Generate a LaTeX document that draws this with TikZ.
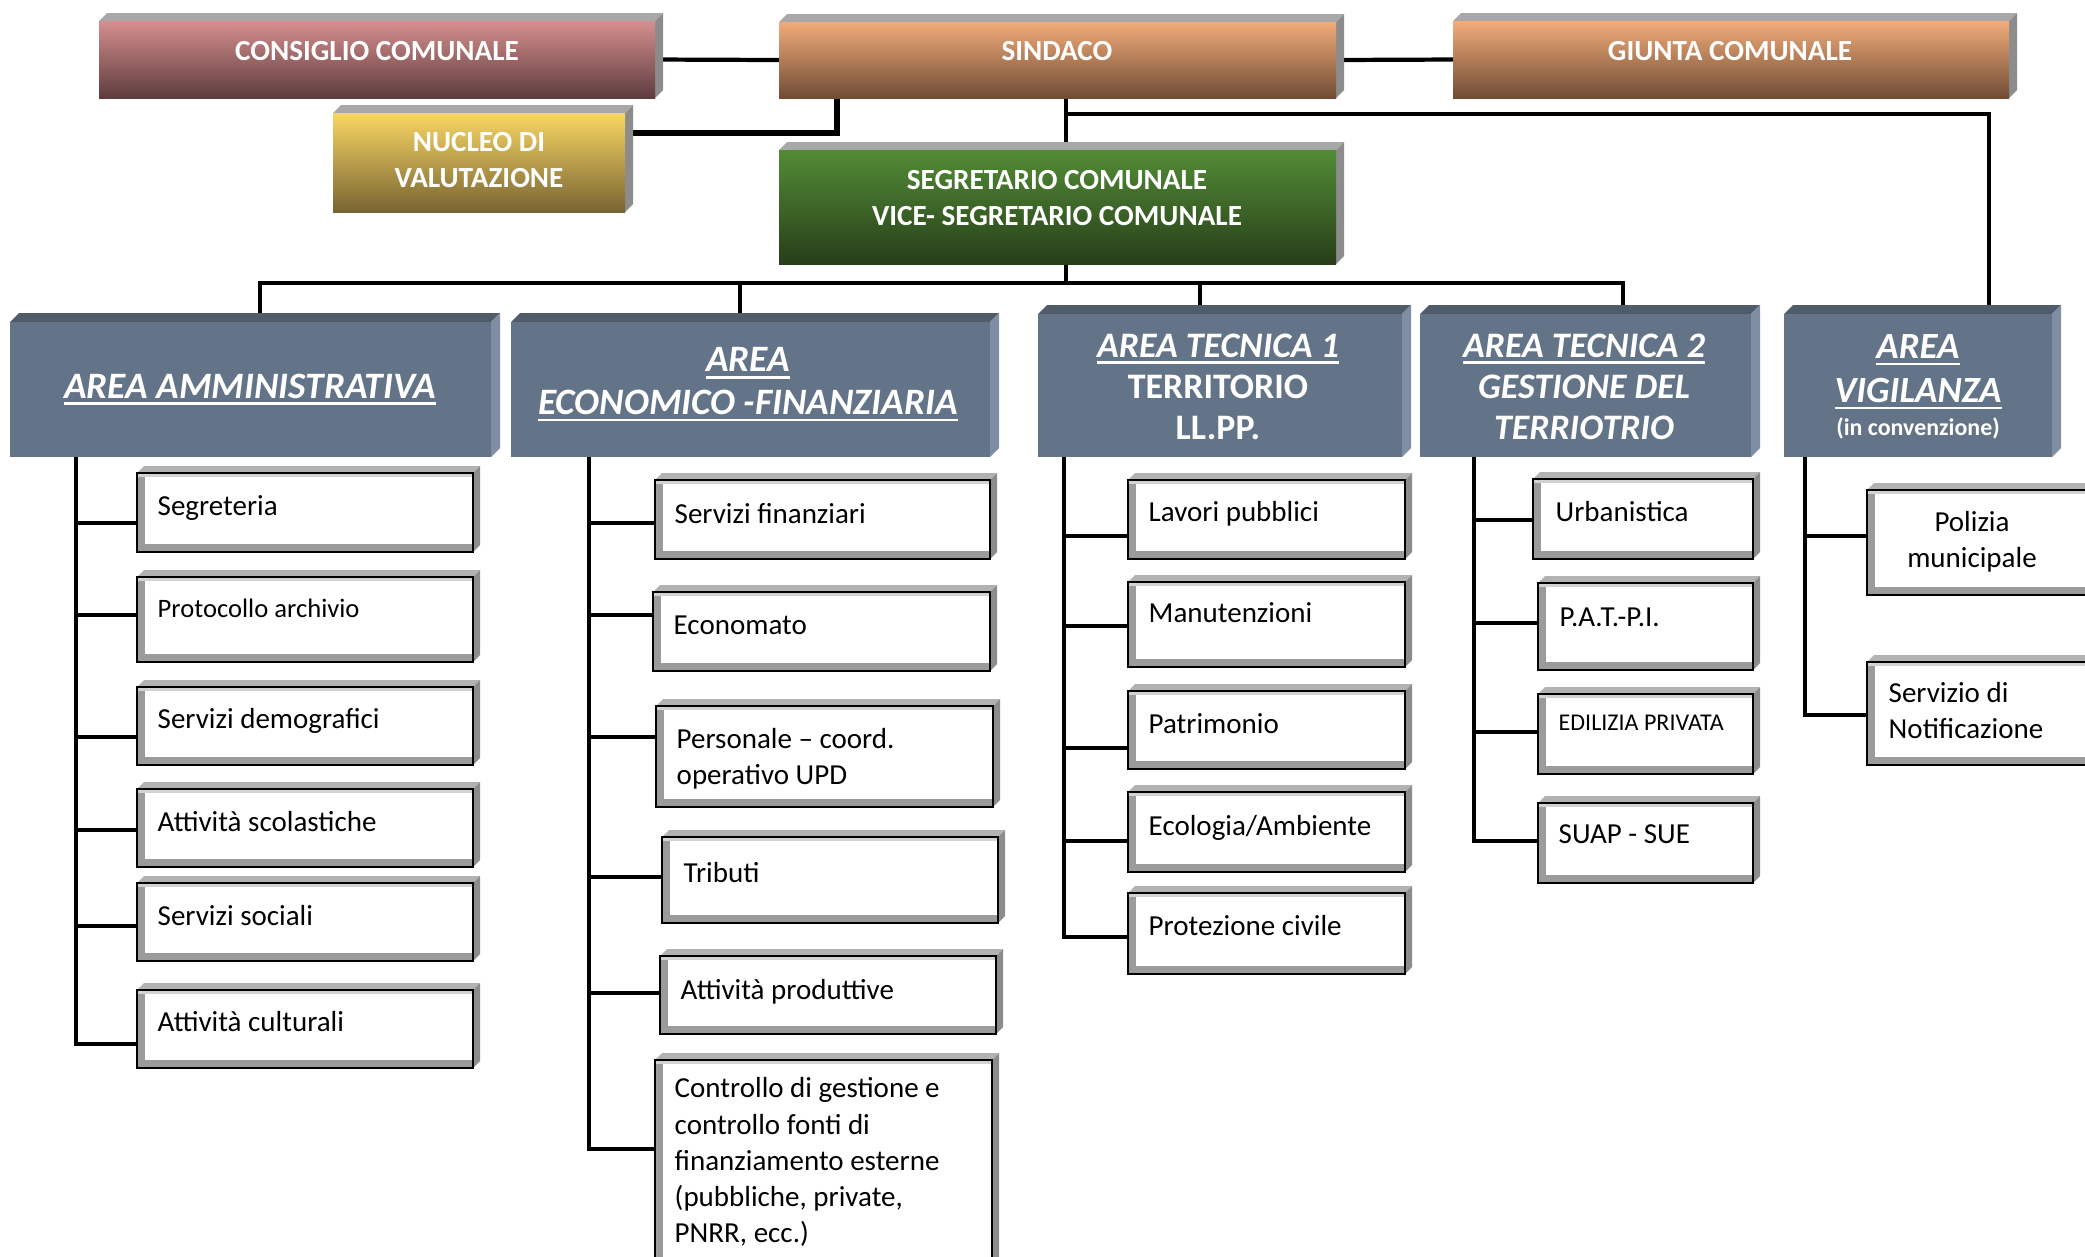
\documentclass[tikz,border=0pt]{standalone}
\usepackage{fontspec}
\setmainfont{Carlito}
\usetikzlibrary{backgrounds}
\definecolor{consT}{RGB}{214,143,142}
\definecolor{consB}{RGB}{94,60,62}
\definecolor{sindT}{RGB}{242,172,122}
\definecolor{sindB}{RGB}{112,76,52}
\definecolor{nucT}{RGB}{249,214,100}
\definecolor{nucB}{RGB}{120,100,50}
\definecolor{segT}{RGB}{82,140,54}
\definecolor{segB}{RGB}{40,62,25}
\definecolor{areaF}{RGB}{100,116,136}
\definecolor{areaTop}{RGB}{80,92,106}
\definecolor{areaRt}{RGB}{128,142,164}
\definecolor{hbT}{RGB}{168,168,168}
\definecolor{hbR}{RGB}{140,140,140}
\definecolor{sbT}{RGB}{178,178,178}
\definecolor{sbR}{RGB}{140,140,140}
\definecolor{sband}{RGB}{155,155,155}
\newsavebox\ulbox
\newcommand\myul[1]{\sbox\ulbox{#1}\leavevmode\rlap{\rule[-1.9pt]{\wd\ulbox}{0.75pt}}\usebox\ulbox}
% header box: name, x1, ytop, x2(face right), y2, top colour, bottom colour
\newcommand\topbx[7]{%
  \fill[hbT] (#2,#3+8) -- (#2+8,#3) -- (#4+8,#3) -- (#4,#3+8) -- cycle;
  \fill[hbR] (#4,#3+8) -- (#4+8,#3) -- (#4+8,#5-8) -- (#4,#5) -- cycle;
  \node[shade, top color=#6, bottom color=#7, inner sep=0, outer sep=0,
    minimum width={(#4-#2)*0.01cm}, minimum height={(#5-#3-8)*0.01cm}]
    (#1) at ({(#2+#4)/2},{(#3+8+#5)/2}) {};
}
% area box
\newcommand\areabx[5]{%
  \fill[areaTop] (#2,#3+9) -- (#2+9,#3) -- (#4+9,#3) -- (#4,#3+9) -- cycle;
  \fill[areaRt] (#4,#3+9) -- (#4+9,#3) -- (#4+9,#5-9) -- (#4,#5) -- cycle;
  \node[fill=areaF, inner sep=0, outer sep=0,
    minimum width={(#4-#2)*0.01cm}, minimum height={(#5-#3-9)*0.01cm}]
    (#1) at ({(#2+#4)/2},{(#3+9+#5)/2}) {};
}
% sub box (black frame coordinates)
\newcommand\subbx[5]{%
  \fill[sbT] (#2,#3) -- (#2+7,#3-7) -- (#4+7,#3-7) -- (#4,#3) -- cycle;
  \fill[sbR] (#4,#3) -- (#4+7,#3-7) -- (#4+7,#5-7) -- (#4,#5) -- cycle;
  \node[subbox, minimum width={(#4-#2)*0.01cm}, minimum height={(#5-#3)*0.01cm}]
    (#1) at ({(#2+#4)/2},{(#3+#5)/2}) {};
}
\tikzset{
  subbox/.style={draw=black, line width=0.8pt, fill=white, inner sep=0, outer sep=0,
    path picture={
      \fill[sband] (path picture bounding box.south west) rectangle ([xshift=2.3pt]path picture bounding box.north west);
      \fill[sband] (path picture bounding box.south west) rectangle ([yshift=2.3pt]path picture bounding box.south east);
      \fill[sband!45] (path picture bounding box.north west) rectangle ([yshift=-1.2pt]path picture bounding box.north east);
    }},
  htext/.style={text=white, font={\bfseries\fontsize{8.3}{10.4}\selectfont}, align=center, inner sep=0},
  atext/.style={text=white, font={\bfseries\fontsize{10.2}{11.7}\selectfont}, align=center, inner sep=0},
  stext/.style={text=black, font={\fontsize{8.25}{10.24}\selectfont}, align=left, inner sep=0, anchor=base west},
  conn/.style={draw=black, line width=1.2pt},
  connthick/.style={draw=black, line width=1.5pt},
  subconn/.style={draw=black, line width=1.1pt},
}
\begin{document}
\begin{tikzpicture}[x=0.01cm, y=-0.01cm]
\useasboundingbox (0,0) rectangle (2085,1256);
\clip (0,0) rectangle (2085,1256);

% ---- top level boxes
\topbx{consiglio}{99}{13}{655}{98}{consT}{consB}
\topbx{sindaco}{779}{14}{1336}{98}{sindT}{sindB}
\topbx{giunta}{1453}{13}{2009}{98}{sindT}{sindB}
\topbx{nucleo}{333}{105}{625}{212}{nucT}{nucB}
\topbx{segretario}{779}{142}{1336}{264}{segT}{segB}

\node[htext] (consiglio-t) at (377,51) {CONSIGLIO COMUNALE};
\node[htext] (sindaco-t) at (1057,51) {SINDACO};
\node[htext] (giunta-t) at (1730,51) {GIUNTA COMUNALE};
\node[htext] (nucleo-t) at (479,160) {NUCLEO DI\\VALUTAZIONE};
\node[htext] (segretario-t) at (1057,198) {SEGRETARIO COMUNALE\\VICE- SEGRETARIO COMUNALE};

% ---- areas
\areabx{amm}{10}{313}{491}{457}
\areabx{econ}{511}{313}{990}{457}
\areabx{tec1}{1038}{305}{1402}{457}
\areabx{tec2}{1420}{305}{1751}{457}
\areabx{vig}{1784}{305}{2052}{457}

\node[atext, font={\bfseries\itshape\fontsize{10.6}{12.2}\selectfont}, anchor=base] (amm-t) at (250,398) {\myul{AREA AMMINISTRATIVA}};
\node[atext, font={\bfseries\itshape\fontsize{10.6}{12.2}\selectfont}, anchor=north] (econ-t) at (748,347) {\myul{AREA}\\\myul{ECONOMICO -FINANZIARIA}};
\node[atext, anchor=north] (tec1-t) at (1218,333) {\myul{\itshape AREA TECNICA 1}\\TERRITORIO\\LL.PP.};
\node[atext, font={\bfseries\itshape\fontsize{10.2}{11.7}\selectfont}, anchor=north] (tec2-t) at (1584,333) {\myul{AREA TECNICA 2}\\GESTIONE DEL\\TERRIOTRIO};
\node[atext, font={\bfseries\itshape\fontsize{10.5}{11.4}\selectfont}, anchor=north] (vig-t) at (1918,334) {\myul{AREA}\\[1.1pt]\myul{VIGILANZA}\\[-2pt]{\upshape\fontsize{6.8}{8}\selectfont (in convenzione)}};

% ---- sub boxes: amministrativa
\subbx{seg}{137}{473}{473}{552}
\subbx{prot}{137}{577}{473}{662}
\subbx{demo}{137}{687}{473}{765}
\subbx{scol}{137}{789}{473}{867}
\subbx{soc}{137}{883}{473}{961}
\subbx{cult}{137}{990}{473}{1068}
\node[stext] (seg-t) at (157,515) {Segreteria};
\node[stext, font={\fontsize{7.57}{9.4}\selectfont}] (prot-t) at (157,617) {Protocollo archivio};
\node[stext] (demo-t) at (157,728) {Servizi demografici};
\node[stext] (scol-t) at (157,831) {Attività scolastiche};
\node[stext] (soc-t) at (157,925) {Servizi sociali};
\node[stext] (cult-t) at (157,1031) {Attività culturali};

% ---- economico-finanziaria
\subbx{fin}{655}{480}{990}{559}
\subbx{econo}{653}{592}{990}{671}
\subbx{pers}{656}{706}{993}{807}
\subbx{trib}{662}{837}{998}{923}
\subbx{prod}{660}{956}{996}{1034}
\subbx{contr}{655}{1060}{992}{1280}
\node[stext] (fin-t) at (674,523) {Servizi finanziari};
\node[stext] (econo-t) at (673,634) {Economato};
\node[stext] (pers-t) at (676,784) {Personale – coord.\\operativo UPD};
\node[stext] (trib-t) at (683,882) {Tributi};
\node[stext] (prod-t) at (680,999) {Attività produttive};
\node[stext] (contr-t) at (674,1242) {Controllo di gestione e\\controllo fonti di\\finanziamento esterne\\(pubbliche, private,\\PNRR, ecc.)};

% ---- tecnica 1
\subbx{lav}{1128}{480}{1405}{559}
\subbx{manu}{1128}{582}{1405}{667}
\subbx{patr}{1128}{691}{1405}{769}
\subbx{ecol}{1128}{792}{1405}{872}
\subbx{prciv}{1128}{893}{1405}{974}
\node[stext] (lav-t) at (1148,521) {Lavori pubblici};
\node[stext] (manu-t) at (1148,622) {Manutenzioni};
\node[stext] (patr-t) at (1148,733) {Patrimonio};
\node[stext] (ecol-t) at (1148,835) {Ecologia/Ambiente};
\node[stext] (prciv-t) at (1148,935) {Protezione civile};

% ---- tecnica 2
\subbx{urb}{1533}{479}{1753}{559}
\subbx{pat}{1538}{583}{1753}{670}
\subbx{edil}{1538}{694}{1753}{774}
\subbx{suap}{1538}{803}{1753}{883}
\node[stext] (urb-t) at (1555,521) {Urbanistica};
\node[stext] (pat-t) at (1559,626) {P.A.T.-P.I.};
\node[stext, font={\fontsize{6.83}{8.5}\selectfont}] (edil-t) at (1558,730) {EDILIZIA PRIVATA};
\node[stext] (suap-t) at (1558,843) {SUAP - SUE};

% ---- vigilanza
\subbx{pol}{1867}{490}{2120}{595}
\subbx{notif}{1867}{662}{2120}{765}
\node[stext, anchor=base, align=center] (pol-t) at (1972,567) {Polizia\\municipale};
\node[stext] (notif-t) at (1888,738) {Servizio di\\Notificazione};

% ---- connectors
\begin{pgfonlayer}{background}
\draw[conn] (consiglio.east) -- (sindaco.west);
\draw[conn] (sindaco.east) -- (giunta.west);
\draw[connthick] (sindaco.south -| 837,0) -- (837,133) -- (nucleo.east |- 0,133);
\draw[conn] (sindaco.south -| 1066,0) -- (segretario.north -| 1066,0);
\coordinate (jv) at (1066,114);
\draw[conn] (jv) -- (1989,114) -- (vig.north -| 1989,0);
\draw[conn] (segretario.south -| 1066,0) -- (1066,283);
\draw[conn] (amm.north -| 260,0) -- (260,283) -- (1623,283) -- (tec2.north -| 1623,0);
\draw[conn] (740,283) -- (econ.north -| 740,0);
\draw[conn] (1200,283) -- (tec1.north -| 1200,0);

\draw[conn] (amm.south -| 76,0) -- (76,1044) -- (cult.west |- 0,1044);
\foreach \n/\yy in {seg/523, prot/615, demo/737, scol/830, soc/926}
  \draw[subconn] (76,\yy) -- (\n.west |- 0,\yy);
\draw[conn] (econ.south -| 589,0) -- (589,1149) -- (contr.west |- 0,1149);
\foreach \n/\yy in {fin/523, econo/615, pers/737, trib/877, prod/993}
  \draw[subconn] (589,\yy) -- (\n.west |- 0,\yy);
\draw[conn] (tec1.south -| 1064,0) -- (1064,937) -- (prciv.west |- 0,937);
\foreach \n/\yy in {lav/536, manu/626, patr/748, ecol/841}
  \draw[subconn] (1064,\yy) -- (\n.west |- 0,\yy);
\draw[conn] (tec2.south -| 1474,0) -- (1474,841) -- (suap.west |- 0,841);
\foreach \n/\yy in {urb/520, pat/623, edil/732}
  \draw[subconn] (1474,\yy) -- (\n.west |- 0,\yy);
\draw[conn] (vig.south -| 1805,0) -- (1805,715) -- (notif.west |- 0,715);
\draw[subconn] (1805,536) -- (pol.west |- 0,536);
\end{pgfonlayer}
\end{tikzpicture}
\end{document}
